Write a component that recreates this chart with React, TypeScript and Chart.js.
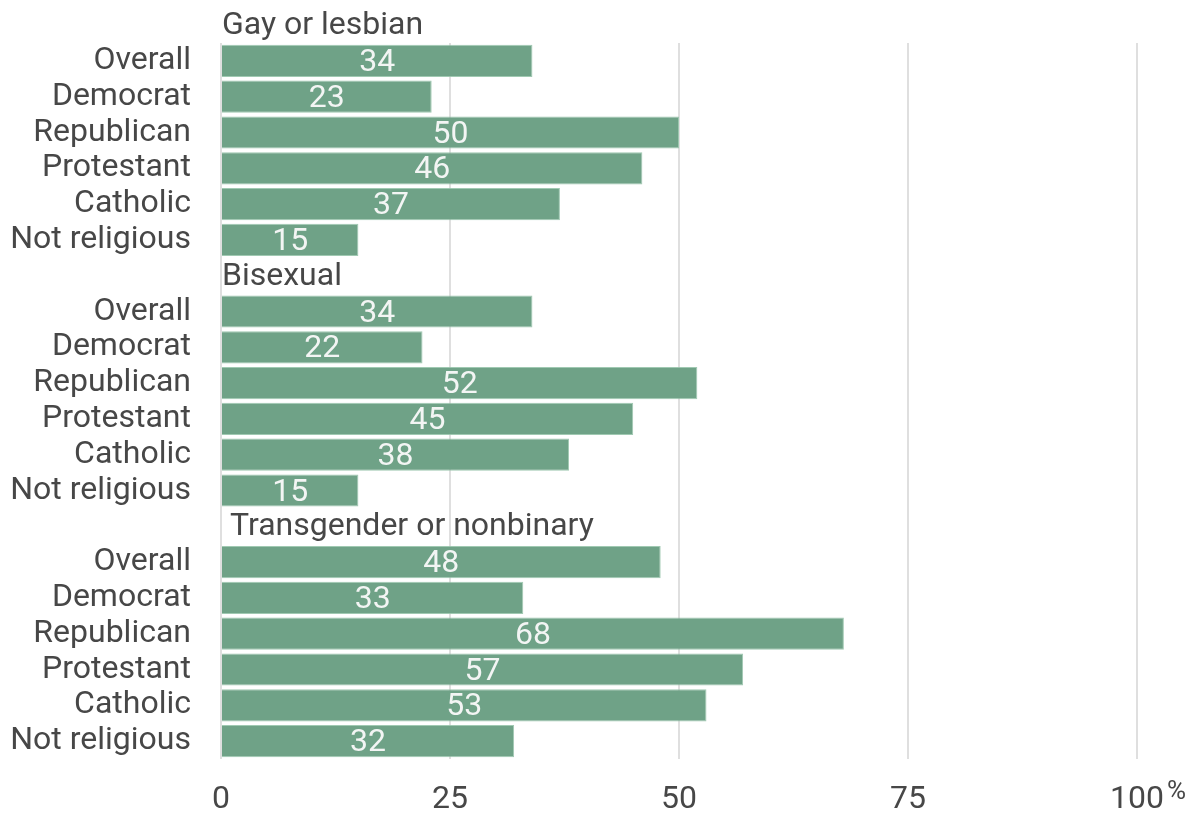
import React, { useEffect, useRef } from "react";
import { Chart, registerables } from "chart.js";

Chart.register(...registerables);

const groupTitles = ["Gay or lesbian", "Bisexual", "Transgender or nonbinary"];
const subgroups = ["Overall", "Democrat", "Republican", "Protestant", "Catholic", "Not religious"];
const gayLesbian = [34, 23, 50, 46, 37, 15];
const bisexual = [34, 22, 52, 45, 38, 15];
const transNonbinary = [48, 33, 68, 57, 53, 32];
const xTicks = [0, 25, 50, 75, 100];

const TEXT = "#474747";
const BAR = "#6fa287";
const FONT = "Roboto";
const titleIndent = [1, 1, 9];

export default function App() {
  const ref = useRef<HTMLCanvasElement | null>(null);

  useEffect(() => {
    document.body.style.margin = "0";
    const labels: string[] = [];
    const values: (number | null)[] = [];
    const titleSlots: number[] = [];
    const groups = [gayLesbian, bisexual, transNonbinary];
    groups.forEach((g, gi) => {
      if (gi === 0) titleSlots.push(-1);
      else {
        titleSlots.push(labels.length);
        labels.push("");
        values.push(null);
      }
      subgroups.forEach((s, i) => {
        labels.push(s);
        values.push(g[i]);
      });
    });

    const overlay = {
      id: "overlay",
      afterDraw(chart: any) {
        const ctx = chart.ctx;
        const y = chart.scales.y;
        const x = chart.scales.x;
        const step = y.getPixelForValue(1) - y.getPixelForValue(0);
        ctx.save();
        // value labels
        const meta = chart.getDatasetMeta(0);
        ctx.font = `32px ${FONT}`;
        ctx.fillStyle = "rgba(250,250,250,0.95)";
        ctx.textAlign = "center";
        ctx.textBaseline = "middle";
        meta.data.forEach((bar: any, i: number) => {
          const v = values[i];
          if (v == null) return;
          ctx.fillText(String(v), (bar.base + bar.x) / 2, bar.y + 2);
        });
        // group titles
        ctx.font = `32px ${FONT}`;
        ctx.fillStyle = TEXT;
        ctx.textAlign = "left";
        titleSlots.forEach((slot, gi) => {
          const py = y.getPixelForValue(0) + slot * step;
          ctx.fillText(groupTitles[gi], chart.chartArea.left + titleIndent[gi], py + 1);
        });
        // percent sign
        const last = xTicks[xTicks.length - 1];
        ctx.font = `32px ${FONT}`;
        const w = ctx.measureText(String(last)).width;
        ctx.font = `26px ${FONT}`;
        ctx.textBaseline = "alphabetic";
        ctx.fillText("%", x.getPixelForValue(last) + w / 2 + 3, 799);
        ctx.restore();
      },
    };

    const chart = new Chart(ref.current as HTMLCanvasElement, {
      type: "bar",
      data: {
        labels,
        datasets: [
          {
            data: values,
            backgroundColor: BAR,
            borderColor: "rgba(150,195,170,0.9)",
            borderWidth: 1,
            barPercentage: 0.9,
            categoryPercentage: 1,
          },
        ],
      },
      options: {
        indexAxis: "y",
        animation: false,
        responsive: false,
        layout: { padding: { left: 0, right: 62, top: 43, bottom: 0 } },
        plugins: { legend: { display: false }, tooltip: { enabled: false } },
        scales: {
          x: {
            min: 0,
            max: 100,
            z: 1,
            afterFit: (s: any) => {
              s.height = 56;
            },
            afterBuildTicks: (s: any) => {
              s.ticks = xTicks.map((v) => ({ value: v }));
            },
            grid: { color: "rgba(185,185,185,0.45)", lineWidth: 2, drawTicks: false },
            border: { display: false },
            ticks: {
              padding: 22,
              color: TEXT,
              font: { family: FONT, size: 32 },
              callback: (v: any) => String(v),
            },
          },
          y: {
            afterFit: (s: any) => {
              s.width = 221;
              s.paddingTop = 0;
              s.paddingBottom = 0;
            },
            grid: { display: false, drawTicks: false },
            border: { display: false },
            ticks: {
              padding: 30,
              color: TEXT,
              autoSkip: false,
              font: { family: FONT, size: 32 },
            },
          },
        },
      },
      plugins: [overlay],
    });
    return () => chart.destroy();
  }, []);

  return (
    <div style={{ position: "absolute", left: 0, top: 0, width: 1199, height: 815 }}>
      <canvas ref={ref} width={1199} height={815} />
    </div>
  );
}
